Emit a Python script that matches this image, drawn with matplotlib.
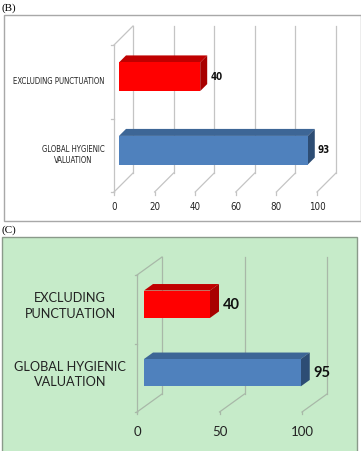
import matplotlib
matplotlib.use("Agg")
import matplotlib.pyplot as plt
from matplotlib import font_manager
from matplotlib.patches import Polygon, Rectangle

# data
categories = ["GLOBAL HYGIENIC\nVALUATION", "EXCLUDING PUNCTUATION"]
categories_c = ["GLOBAL HYGIENIC\nVALUATION", "EXCLUDING\nPUNCTUATION"]
values_b = [93, 40]
values_c = [95, 40]
ticks_b = [0, 20, 40, 60, 80, 100]
ticks_c = [0, 50, 100]
bar_colors = [("#4f81bd", "#3d6696", "#2d4d74"), ("#ff0000", "#c00000", "#a80000")]

W, H = 361, 451
fig = plt.figure(figsize=(W / 100, H / 100), dpi=100)
fig.patch.set_facecolor("white")

names = sorted({f.name for f in font_manager.fontManager.ttflist})
narrow = ["Liberation Sans Narrow", "DejaVu Sans"] if "Liberation Sans Narrow" in names else ["DejaVu Sans"]
calib = ["Lato", "DejaVu Sans"]


def fr(x0, y0, x1, y1):
    # pixel box (top-left origin) -> figure fraction
    return [x0 / W, 1 - y1 / H, (x1 - x0) / W, (y1 - y0) / H]


def panel(box, bg, edge):
    fig.patches.append(Rectangle((box[0], box[1]), box[2], box[3], transform=fig.transFigure,
                                 facecolor=bg, edgecolor=edge, lw=1.0, zorder=-5))


def draw3d(ax, values, labels, ticks, depth, ratio, bfront, bback, barh, fonts):
    ax.set_xlim(0, 100)
    ax.set_ylim(0, 2)
    ax.axis("off")
    ax.patch.set_visible(False)
    bb = ax.get_position()
    kx = 100 / (bb.width * W)
    ky = 2 / (bb.height * H)

    def P(v, c, d):
        return (v + d * kx, c + d * ratio * ky)

    kw = dict(color=fonts["grid"], lw=0.9, clip_on=False)
    # back wall grid lines and floor
    for t in ticks:
        a, b = P(t, 0, depth), P(t, 2, depth)
        ax.plot([a[0], b[0]], [a[1], b[1]], **kw)
        f = P(t, 0, 0)
        ax.plot([f[0], a[0]], [f[1], a[1]], **kw)
        ax.plot([t, t], [0, -0.035], **kw)
    # left wall
    top_b = P(0, 2, depth)
    ax.plot([0, top_b[0]], [2, top_b[1]], **kw)
    ax.plot([0, 0], [0, 2], **kw)
    for c in [0, 1, 2]:
        ax.plot([0, -1.5], [c, c], **kw)
    # bars
    for i, (v, col) in enumerate(zip(values, bar_colors)):
        face, topc, side = col
        c0, c1 = i + 0.5 - barh / 2, i + 0.5 + barh / 2
        front = [P(0, c0, bfront), P(v, c0, bfront), P(v, c1, bfront), P(0, c1, bfront)]
        top = [P(0, c1, bfront), P(v, c1, bfront), P(v, c1, bback), P(0, c1, bback)]
        right = [P(v, c0, bfront), P(v, c0, bback), P(v, c1, bback), P(v, c1, bfront)]
        ax.add_patch(Polygon(top, closed=True, facecolor=topc, edgecolor="none", clip_on=False, zorder=3))
        ax.add_patch(Polygon(right, closed=True, facecolor=side, edgecolor="none", clip_on=False, zorder=3))
        ax.add_patch(Polygon(front, closed=True, facecolor=face, edgecolor="none", clip_on=False, zorder=4))
        lx, ly = P(v, i + 0.5, bback)
        ax.text(lx + fonts["vpad"] * kx, ly - fonts["vdrop"] * ky, str(v), ha="left", va="center",
                fontsize=fonts["vsize"], fontweight="bold", family=fonts["vfam"],
                fontstretch=fonts["stretch"], color="#111111")
        ax.text(fonts["lx"], i + 0.5 + fonts["ly"], labels[i], ha=fonts["lha"], va="center",
                multialignment="center", fontsize=fonts["lsize"], family=fonts["lfam"],
                fontstretch=fonts["stretch"], color="#222222", linespacing=1.35)
    for t in ticks:
        ax.text(t, fonts["ty"], str(t), ha="center", va="top", fontsize=fonts["tsize"],
                family=fonts["lfam"], fontstretch=fonts["stretch"], color="#222222")


# panel B
panel([4 / W, 1 - 221 / H, 357 / W, 206 / H], "white", "#a8a8a8")
fig.text(2 / W, 1 - 8 / H, "(B)", fontsize=8, family="Liberation Serif", va="center", ha="left")
axb = fig.add_axes(fr(114, 45, 317, 192))
draw3d(axb, values_b, categories, ticks_b, depth=19, ratio=1.0, bfront=5, bback=12, barh=0.39,
       fonts=dict(vsize=7, vfam=narrow, vpad=3, vdrop=7, lx=-4.5, ly=0.0, lha="right",
                  lsize=5.6, lfam=narrow, ty=-0.13, tsize=7, stretch="condensed", grid="#c4c4c4"))

# panel C
panel([2 / W, -0.01, 355 / W, 1 - 237 / H + 0.01], "#c6ebc9", "#8a9a8a")
fig.text(2 / W, 1 - 230 / H, "(C)", fontsize=8, family="Liberation Serif", va="center", ha="left")
axc = fig.add_axes(fr(137, 275, 302, 412))
draw3d(axc, values_c, categories_c, ticks_c, depth=25, ratio=0.72, bfront=7, bback=16, barh=0.40,
       fonts=dict(vsize=10.5, vfam=calib, vpad=4, vdrop=7, lx=-40.5, ly=0.05, lha="center",
                  lsize=9.2, lfam=calib, ty=-0.2, tsize=9.5, stretch="normal", grid="#a8b8a8"))

fig.savefig("out.png", dpi=100)
